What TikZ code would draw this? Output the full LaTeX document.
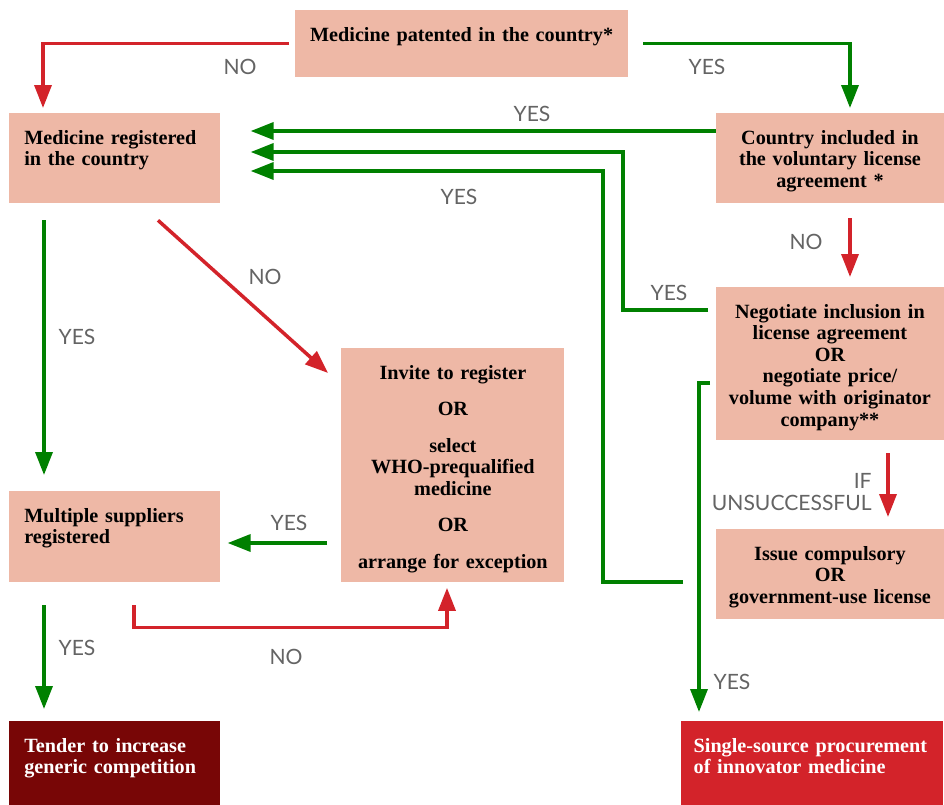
\documentclass[tikz,border=0pt]{standalone}
\usepackage{fontspec}
\setmainfont{Liberation Serif}
\newfontfamily\labelfont{Lato}
\usetikzlibrary{arrows.meta,calc}
\definecolor{boxfill}{RGB}{238,184,166}
\definecolor{yesgreen}{RGB}{0,128,0}
\definecolor{nored}{RGB}{211,35,42}
\definecolor{tenderred}{RGB}{120,6,6}
\definecolor{labelgray}{RGB}{100,100,100}
\begin{document}
\begin{tikzpicture}[x=0.02cm, y=-0.02cm,
        every node/.style={inner sep=0pt},
        box/.style={fill=boxfill, anchor=north west, inner xsep=3mm, inner ysep=0pt,
            font=\bfseries\fontsize{11.5}{12.3}\selectfont, text height=17.5pt},
        leftbox/.style={box, align=left, text width=103pt},
        midbox/.style={box, align=center, inner xsep=1mm},
        yesline/.style={draw=yesgreen, line width=2pt, -{Triangle[length=4.6mm,width=3.4mm]}},
        noline/.style={yesline, draw=nored},
        lbl/.style={text=labelgray, font=\labelfont\fontsize{12}{13}\selectfont}]
    \useasboundingbox (0,0) rectangle (944,805);
    % boxes
    \node[midbox, text width=183.6pt, text depth=20.5pt] (patent) at (295,10) {Medicine patented in the country*};
    \node[leftbox, text depth=33.5pt] (registered) at (9,113) {Medicine registered\\in the country};
    \node[midbox, text width=123.6pt, text depth=33.5pt] (voluntary) at (716,113) {Country included in\\the voluntary license\\agreement *};
    \node[midbox, text width=123.6pt, text depth=69.2pt] (negotiate) at (716,287) {Negotiate inclusion in\\license agreement\\OR\\negotiate price/\\volume with originator\\company**};
    \node[midbox, text width=121.3pt, text depth=115.2pt] (invite) at (341,348) {Invite to register\\[8.5pt]OR\\[8.5pt]select\\WHO-prequalified\\medicine\\[8.5pt]OR\\[8.5pt]arrange for exception};
    \node[leftbox, text depth=34.1pt] (multiple) at (9,491) {Multiple suppliers\\registered};
    \node[midbox, text width=123.6pt, text depth=33.5pt] (compulsory) at (716,529) {Issue compulsory\\OR\\government-use license};
    \node[leftbox, fill=tenderred, text=white, text depth=30.1pt] (tender) at (9,721) {Tender to increase\\generic competition};
    \node[leftbox, fill=nored, text=white, text width=135pt, inner xsep=7pt, text depth=30.1pt] (single) at (681,721) {Single-source procurement\\of innovator medicine};
    % connectors
    \draw[noline, shorten <=1.2mm, shorten >=1mm] (patent.west) -| ($(registered.north west)+(34,0)$);
    \draw[yesline, shorten <=3mm, shorten >=1mm] (patent.east) -| ($(voluntary.north west)+(134,0)$);
    \draw[yesline, shorten >=6mm] ($(voluntary.north west)+(0,18)$) -- ($(registered.north east)+(0,18)$);
    \draw[yesline, shorten <=1.6mm, shorten >=6mm] ($(negotiate.north west)+(0,23)$) -- ++(-93,0) |- ($(registered.north east)+(0,39)$);
    \draw[yesline, shorten <=6.6mm, shorten >=6mm] ($(compulsory.north west)+(0,53)$) -- ++(-113,0) |- ($(registered.north east)+(0,58)$);
    \draw[noline, shorten <=3mm, shorten >=2mm] ($(voluntary.south west)+(134,0)$) -- ($(negotiate.north west)+(134,0)$);
    \draw[noline, shorten <=2.6mm, shorten >=2.4mm] ($(negotiate.south west)+(172,0)$) -- ($(compulsory.north west)+(172,0)$);
    \draw[yesline, shorten <=1.2mm, shorten >=1.8mm] ($(negotiate.north west)+(0,96)$) -| ($(single.north west)+(18,0)$);
    \draw[yesline, shorten <=3.4mm, shorten >=3.2mm] ($(registered.south west)+(35,0)$) -- ($(multiple.north west)+(35,0)$);
    \draw[noline] ($(registered.south west)+(149,17)$) -- ($(invite.north west)+(-13,25)$);
    \draw[yesline, shorten <=2.8mm, shorten >=1.4mm] ($(invite.north west)+(0,195)$) -- ($(multiple.north east)+(0,52)$);
    \draw[yesline, shorten <=4.6mm, shorten >=2.4mm] ($(multiple.south west)+(35,0)$) -- ($(tender.north west)+(35,0)$);
    \draw[noline, shorten <=4.6mm, shorten >=1.2mm] ($(multiple.south west)+(125,0)$) -- ++(0,45) -| ($(invite.south west)+(106,0)$);
    % labels
    \node[lbl] (noPatent) at (240,67) {NO};
    \node[lbl] (yesPatent) at (707,67) {YES};
    \node[lbl] (yesVoluntary) at (532,114) {YES};
    \node[lbl] (yesCompulsory) at (459,197) {YES};
    \node[lbl] (noVoluntary) at (806,242) {NO};
    \node[lbl] (yesNegotiate) at (669,293) {YES};
    \node[lbl] (noRegistered) at (265,277) {NO};
    \node[lbl] (yesRegistered) at (77,337) {YES};
    \node[lbl, align=right, anchor=east] (ifFail) at (872,492) {IF\\UNSUCCESSFUL};
    \node[lbl] (yesInvite) at (289,523) {YES};
    \node[lbl] (yesMultiple) at (77,648) {YES};
    \node[lbl] (noMultiple) at (286,657) {NO};
    \node[lbl] (yesSingle) at (732,682) {YES};
\end{tikzpicture}
\end{document}
